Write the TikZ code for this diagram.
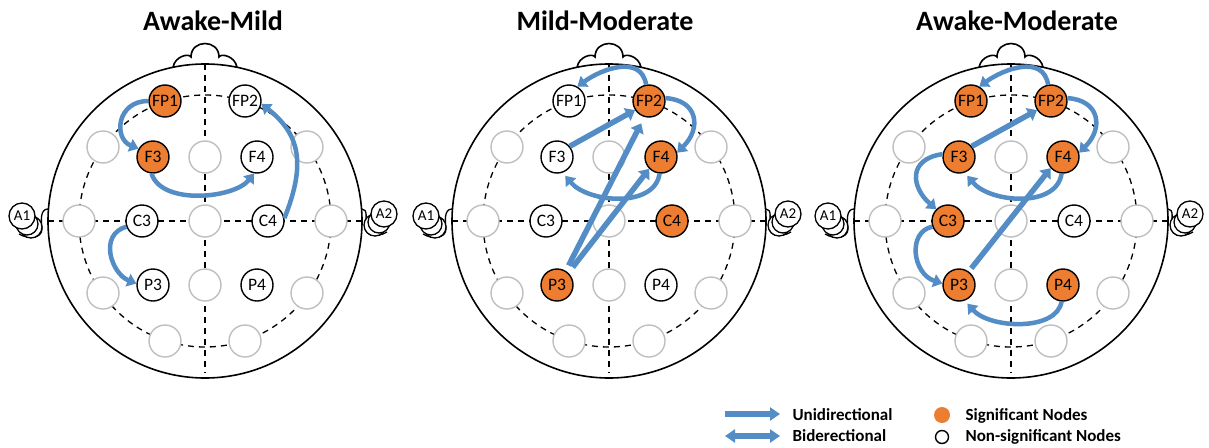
\documentclass[tikz,border=0pt]{standalone}
\usepackage{fontspec}
\setmainfont{Carlito}
\usetikzlibrary{arrows.meta}
\definecolor{sigorange}{RGB}{237,125,49}
\definecolor{arrowblue}{RGB}{84,141,197}
\definecolor{eleggrey}{RGB}{191,191,191}
\tikzset{
  headline/.style={line width=1.6pt},
  earline/.style={line width=1.3pt},
  guideline/.style={line width=1.3pt, dash pattern=on 6pt off 5pt},
  elec/.style={circle, minimum size=32pt, inner sep=0pt, line width=1.4pt, fill=white, font=\fontsize{17.5}{17.5}\selectfont},
  sigel/.style={elec, draw=black, fill=sigorange},
  nsigel/.style={elec, draw=black},
  greyel/.style={elec, draw=eleggrey},
  refel/.style={circle, minimum size=26pt, inner sep=0pt, line width=1.3pt, draw=black, fill=white, font=\fontsize{15}{15}\selectfont},
  conn/.style={draw=arrowblue, line width=4.5pt, -{Triangle[length=9pt,width=13pt]}},
  sconn/.style={draw=arrowblue, line width=5.5pt, -{Triangle[length=9pt,width=14pt]}},
  headtitle/.style={font=\fontsize{28}{30}\selectfont\bfseries, anchor=base},
  legtext/.style={font=\fontsize{17}{19}\selectfont\bfseries, anchor=base west},
  legarrow/.style={draw=arrowblue, line width=6pt},
}
\newcommand{\eeghead}[9]{%
  % nose
  \draw[headline] (-32,-153.7) .. controls (-30,-165) and (-16,-168) .. (-14,-164)
     .. controls (-14,-182) and (14,-182) .. (14,-164)
     .. controls (16,-168) and (30,-165) .. (32,-153.7);
  % left ear
  \draw[earline] (-157,-12) .. controls (-165,-12) and (-164,0) .. (-163,8)
     .. controls (-163,17) and (-176,19) .. (-186,13);
  \draw[earline, fill=white] (-174,6) circle[radius=11];
  \draw[earline, fill=white] (-178,3) circle[radius=11];
  \node[refel] (#1A1) at (-183,-5) {A1};
  % right ear
  \draw[earline] (157,-12) .. controls (163,-12) and (161,-2) .. (160,6)
     .. controls (160,15) and (172,17) .. (182,11);
  \draw[earline, fill=white] (170,4) circle[radius=11];
  \draw[earline, fill=white] (174,1) circle[radius=11];
  \node[refel] (#1A2) at (179,-7) {A2};
  % head
  \draw[headline] (0,0) circle[radius=157];
  \draw[guideline] (0,0) circle[radius=126];
  \draw[guideline] (0,-157) -- (0,152);
  \draw[guideline] (-157,0) -- (157,0);
  % electrodes
  \node[#2] (#1FP1) at (-40,-120) {FP1};
  \node[#3] (#1FP2) at (40,-120) {FP2};
  \node[greyel] (#1F7) at (-102,-74) {};
  \node[#4] (#1F3) at (-52,-64) {F3};
  \node[greyel] (#1Fz) at (0,-64) {};
  \node[#5] (#1F4) at (52,-64) {F4};
  \node[greyel] (#1F8) at (102,-74) {};
  \node[greyel] (#1T3) at (-126,0) {};
  \node[#6] (#1C3) at (-63,0) {C3};
  \node[greyel] (#1Cz) at (0,0) {};
  \node[#7] (#1C4) at (63,0) {C4};
  \node[greyel] (#1T4) at (126,0) {};
  \node[greyel] (#1T5) at (-102,72) {};
  \node[#8] (#1P3) at (-52,64) {P3};
  \node[greyel] (#1Pz) at (0,64) {};
  \node[#9] (#1P4) at (52,64) {P4};
  \node[greyel] (#1T6) at (102,72) {};
  \node[greyel] (#1O1) at (-40,120) {};
  \node[greyel] (#1O2) at (40,120) {};
}
\begin{document}
\begin{tikzpicture}[x=1pt, y=-1pt]
\useasboundingbox[fill=white] (0,0) rectangle (1209,447);

% titles
\node[headtitle] (t1) at (213,30) {Awake-Mild};
\node[headtitle] (t2) at (605,30) {Mild-Moderate};
\node[headtitle] (t3) at (1017,30) {Awake-Moderate};

% head 1: Awake-Mild
\begin{scope}[shift={(205,221)}]
  \eeghead{a}{sigel}{nsigel}{sigel}{nsigel}{nsigel}{nsigel}{nsigel}{nsigel}
  \draw[conn] (aFP1.180) .. controls +(-32,0) and +(-25,-10) .. (aF3.150);
  \draw[conn] (aF3.265) .. controls +(10,32) and +(-20,25) .. (aF4.260);
  \draw[conn] (aC4.10) .. controls +(22,-55) and +(38,30) .. (aFP2.-10);
  \draw[conn] (aC3.200) .. controls +(-28,8) and +(-25,-10) .. (aP3.175);
\end{scope}

% head 2: Mild-Moderate
\begin{scope}[shift={(609,221)}]
  \eeghead{b}{nsigel}{sigel}{nsigel}{sigel}{nsigel}{sigel}{sigel}{nsigel}
  \draw[conn] (bFP2.100) .. controls +(-5,-30) and +(25,-18) .. (bFP1.60);
  \draw[conn] (bFP2.10) .. controls +(32,2) and +(25,-25) .. (bF4.15);
  \draw[sconn] (bF3.40) -- (bFP2.213);
  \draw[sconn, shorten <=6pt, shorten >=7pt] (bP3.58) -- (bFP2.254);
  \draw[sconn, shorten <=7pt] (bP3.47) -- (bF4.225);
  \draw[conn, shorten >=4pt] (bF4.265) .. controls +(-5,35) and +(25,30) .. (bF3.290);
\end{scope}

% head 3: Awake-Moderate
\begin{scope}[shift={(1011,221)}]
  \eeghead{c}{sigel}{sigel}{sigel}{sigel}{sigel}{nsigel}{sigel}{sigel}
  \draw[conn] (cFP2.100) .. controls +(-5,-30) and +(25,-18) .. (cFP1.60);
  \draw[conn] (cFP2.10) .. controls +(32,2) and +(25,-25) .. (cF4.15);
  \draw[sconn] (cF3.40) -- (cFP2.213);
  \draw[conn, shorten >=4pt] (cF4.265) .. controls +(-5,35) and +(25,30) .. (cF3.290);
  \draw[conn] (cF3.170) .. controls +(-35,5) and +(-25,-22) .. (cC3.135);
  \draw[conn] (cC3.200) .. controls +(-25,5) and +(-30,-10) .. (cP3.175);
  \draw[sconn, shorten <=4pt] (cP3.54) -- (cF4.222);
  \draw[conn, shorten >=4pt] (cP4.265) .. controls +(-5,30) and +(25,28) .. (cP3.290);
\end{scope}

% legend
\coordinate (u1) at (725,414);
\coordinate (u2) at (780,414);
\coordinate (b1) at (725,436);
\coordinate (b2) at (780,436);
\draw[legarrow, -{Triangle[length=10pt,width=13pt]}] (u1) -- (u2);
\draw[legarrow, {Triangle[length=10pt,width=13pt]}-{Triangle[length=10pt,width=13pt]}] (b1) -- (b2);
\node[legtext] (lu) at (789,420) {Unidirectional};
\node[legtext] (lb) at (789,441) {Biderectional};
\node[circle, fill=sigorange, minimum size=16pt, inner sep=0pt] (ls) at (942,415) {};
\node[circle, draw=black, line width=1.4pt, minimum size=13pt, inner sep=0pt] (ln) at (942,437) {};
\node[legtext] (lst) at (962,420) {Significant Nodes};
\node[legtext] (lnt) at (962,441) {Non-significant Nodes};
\end{tikzpicture}
\end{document}
